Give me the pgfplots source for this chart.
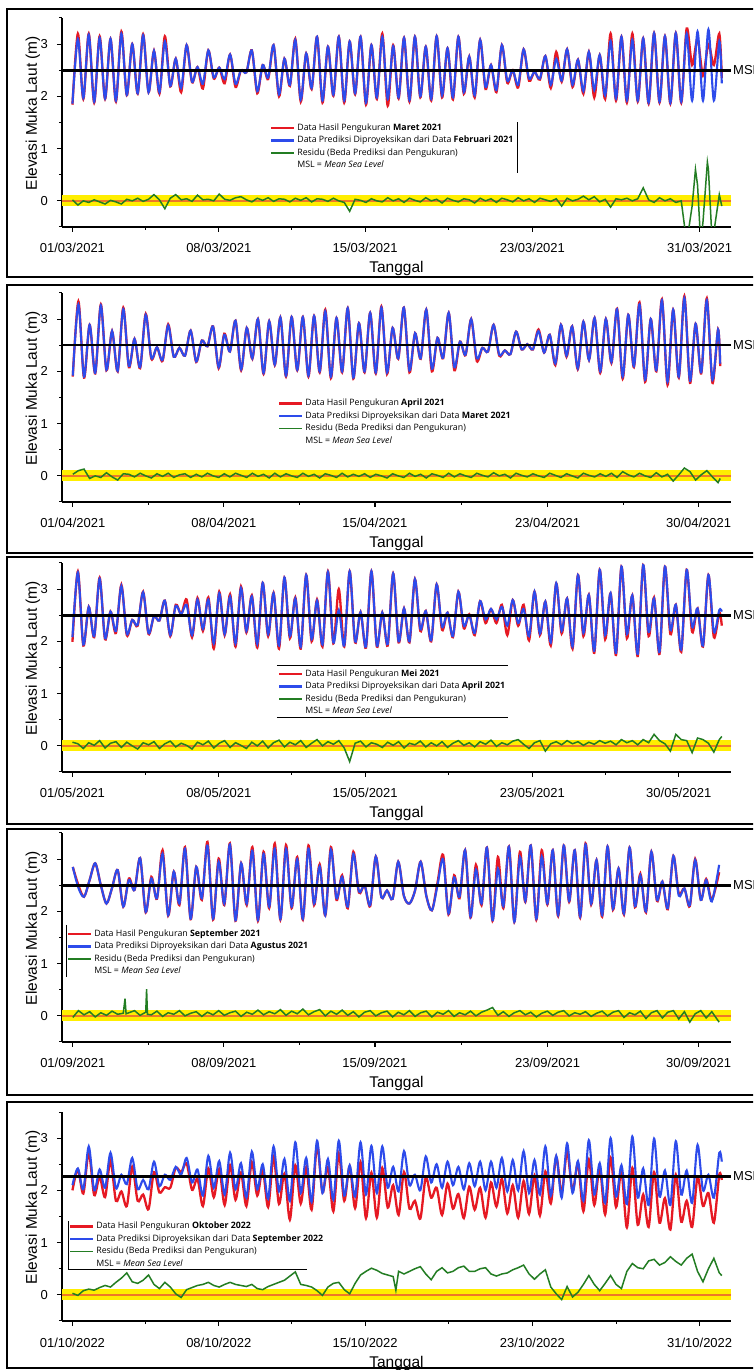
\documentclass[border=0pt]{standalone}
\usepackage{pgfplots}
\pgfplotsset{compat=1.18}
\usepackage{pgfplotstable}
\usepackage{fontspec}
\setmainfont{Liberation Sans}
\newfontfamily\legfont{Open Sans}
\definecolor{cred}{RGB}{230,25,35}
\definecolor{cblue}{RGB}{45,75,235}
\definecolor{cgreen}{RGB}{35,125,35}
\definecolor{cyel}{RGB}{255,238,0}
\definecolor{corg}{RGB}{238,120,40}

% Panel 1 : March 2021
\pgfplotstableread{
t p m r
0.00 1.86 1.84 0.02
0.26 3.10 3.20 -0.08
0.52 1.97 1.95 0.00
0.78 3.18 3.20 -0.03
1.04 1.90 1.88 0.02
1.30 3.12 3.15 -0.02
1.56 1.96 1.95 -0.06
1.82 3.10 3.10 0.01
2.08 1.92 1.90 -0.02
2.34 3.20 3.24 -0.06
2.60 2.03 2.02 0.03
2.86 3.00 3.00 0.00
3.12 2.06 2.05 0.05
3.38 3.17 3.19 -0.01
3.64 2.08 2.08 0.03
3.90 2.87 2.87 0.12
4.16 2.08 2.05 0.02
4.42 3.05 3.15 -0.15
4.68 2.20 2.19 0.05
4.94 2.72 2.72 0.12
5.20 2.16 2.08 0.02
5.46 2.98 2.98 0.04
5.72 2.28 2.27 -0.01
5.98 2.56 2.56 0.11
6.24 2.24 2.15 0.02
6.50 2.88 2.88 0.03
6.76 2.36 2.34 0.00
7.02 2.55 2.55 0.13
7.28 2.33 2.25 0.03
7.54 2.80 2.80 0.01
7.80 2.24 2.18 0.06
8.06 2.50 2.50 0.08
8.32 2.46 2.46 0.02
8.58 2.88 2.88 -0.02
8.84 2.10 2.06 0.05
9.10 2.60 2.60 0.01
9.36 2.36 2.33 0.06
9.62 2.98 2.98 -0.01
9.88 2.04 2.00 0.04
10.14 2.72 2.72 0.03
10.40 2.22 2.20 -0.02
10.66 3.08 3.10 0.05
10.92 1.94 1.90 0.01
11.18 2.82 2.82 0.06
11.44 2.16 2.14 -0.02
11.70 3.14 3.14 0.04
11.96 1.92 1.88 0.03
12.22 2.95 2.95 -0.01
12.48 2.03 2.01 0.05
12.74 3.14 3.14 0.00
13.00 1.92 1.88 -0.03
13.26 3.05 3.05 -0.20
13.52 2.06 2.04 0.03
13.78 3.14 3.14 0.01
14.04 1.88 1.84 -0.03
14.30 2.98 2.98 0.04
14.56 1.98 1.95 0.00
14.82 3.14 3.20 -0.02
15.08 1.95 1.82 0.06
15.34 2.96 2.98 0.00
15.60 1.98 1.96 0.04
15.86 3.12 3.12 -0.03
16.12 1.93 1.90 0.05
16.38 3.14 3.14 0.01
16.64 2.00 1.98 -0.02
16.90 2.95 2.95 0.06
17.16 1.95 1.92 0.00
17.42 3.15 3.15 0.03
17.68 2.02 1.98 -0.04
17.94 2.92 2.92 0.05
18.20 1.98 1.94 0.01
18.46 3.14 3.14 -0.02
18.72 2.08 2.05 0.04
18.98 2.76 2.76 0.02
19.24 2.02 1.98 -0.04
19.50 3.08 3.08 0.05
19.76 2.18 2.14 0.00
20.02 2.60 2.60 0.04
20.28 2.12 2.08 -0.03
20.54 2.98 2.98 0.05
20.80 2.30 2.26 0.02
21.06 2.50 2.50 -0.02
21.32 2.22 2.17 0.06
21.58 2.90 2.90 0.00
21.84 2.34 2.30 0.04
22.10 2.47 2.47 -0.03
22.36 2.34 2.32 0.05
22.62 2.77 2.77 0.02
22.88 2.22 2.16 -0.01
23.14 2.72 2.85 0.04
23.40 2.30 2.28 -0.10
23.66 2.90 2.90 0.05
23.92 2.22 2.18 0.00
24.18 2.70 2.70 0.03
24.44 2.10 2.05 0.09
24.70 2.85 2.85 0.02
24.96 2.12 1.98 0.08
25.22 2.79 2.79 -0.02
25.48 2.02 1.95 0.03
25.74 3.06 3.20 -0.12
26.00 1.96 1.92 0.04
26.26 3.14 3.14 0.02
26.52 1.92 1.88 0.05
26.78 3.08 3.20 0.00
27.04 1.92 1.90 0.04
27.30 3.11 3.11 0.25
27.56 1.88 1.86 0.02
27.82 3.21 3.21 -0.03
28.08 1.90 1.88 0.06
28.34 3.15 3.15 0.00
28.60 1.88 1.86 0.04
28.86 3.21 3.21 -0.03
29.12 1.90 1.88 0.00
29.38 3.20 3.30 -0.80
29.64 1.92 2.60 -0.10
29.80 nan nan 0.60
29.90 3.24 3.10 0.30
30.05 nan nan -0.80
30.16 1.92 2.40 -0.40
30.37 nan nan 0.74
30.42 3.28 3.00 0.60
30.60 nan nan -0.80
30.68 1.92 2.60 -0.60
30.94 3.05 3.20 0.12
31.06 2.25 2.35 -0.10
}\tA

% Panel 2 : April 2021
\pgfplotstableread{
t p m r
0.00 1.92 1.90 0.03
0.26 3.28 3.34 0.10
0.52 1.90 1.88 0.13
0.78 2.89 2.89 -0.05
1.04 1.97 1.96 0.00
1.30 3.26 3.28 -0.03
1.56 2.03 2.02 0.06
1.82 2.77 2.77 -0.02
2.08 2.01 2.00 -0.08
2.34 3.19 3.22 0.04
2.60 2.10 2.08 0.03
2.86 2.62 2.62 -0.02
3.12 2.08 2.06 0.05
3.38 3.08 3.10 0.00
3.64 2.26 2.24 -0.04
3.90 2.46 2.46 0.04
4.16 2.22 2.20 -0.01
4.42 2.88 2.90 0.05
4.68 2.28 2.28 -0.03
4.94 2.45 2.45 0.02
5.20 2.30 2.30 0.04
5.46 2.78 2.78 -0.03
5.72 2.19 2.18 0.03
5.98 2.59 2.59 -0.02
6.24 2.48 2.48 0.05
6.50 2.86 2.86 0.00
6.76 2.08 2.06 -0.03
7.02 2.70 2.72 0.04
7.28 2.38 2.38 -0.02
7.54 2.97 2.97 0.05
7.80 2.04 2.02 0.01
8.06 2.83 2.83 -0.03
8.32 2.25 2.24 0.05
8.58 3.00 3.00 -0.01
8.84 1.97 1.95 0.03
9.10 2.96 2.96 -0.04
9.36 2.13 2.12 0.05
9.62 3.03 3.03 -0.02
9.88 1.92 1.90 0.04
10.14 3.04 3.04 0.00
10.40 2.03 2.02 -0.03
10.66 3.04 3.04 0.05
10.92 1.92 1.90 -0.01
11.18 3.06 3.06 0.03
11.44 2.00 1.98 -0.04
11.70 3.15 3.18 0.04
11.96 1.90 1.87 0.01
12.22 3.02 3.02 -0.03
12.48 2.00 1.98 0.05
12.74 3.21 3.21 -0.02
13.00 1.88 1.86 0.03
13.26 2.92 2.92 -0.01
13.52 2.00 1.98 0.04
13.78 3.12 3.12 -0.03
14.04 1.98 1.96 0.03
14.30 3.22 3.24 0.00
14.56 1.98 1.95 -0.04
14.82 2.83 2.83 0.04
15.08 2.25 2.24 0.00
15.34 3.22 3.22 -0.03
15.60 2.02 1.98 0.05
15.86 2.73 2.73 -0.01
16.12 2.25 2.24 0.03
16.38 3.18 3.18 -0.04
16.64 2.05 2.00 0.04
16.90 2.64 2.64 0.01
17.16 2.26 2.25 -0.03
17.42 3.12 3.12 0.05
17.68 2.08 2.02 -0.02
17.94 2.57 2.57 0.04
18.20 2.32 2.31 0.00
18.46 3.00 3.00 -0.03
18.72 2.25 2.20 0.05
18.98 2.45 2.45 0.01
19.24 2.38 2.38 -0.02
19.50 2.89 2.89 0.06
19.76 2.32 2.30 0.00
20.02 2.40 2.40 0.03
20.28 2.33 2.33 -0.04
20.54 2.76 2.76 0.05
20.80 2.42 2.42 0.01
21.06 2.52 2.52 -0.02
21.32 2.42 2.42 0.04
21.58 2.77 2.80 0.00
21.84 2.36 2.36 -0.03
22.10 2.70 2.70 0.05
22.36 2.15 2.12 0.01
22.62 2.89 2.89 -0.03
22.88 2.30 2.28 0.04
23.14 2.86 2.86 0.00
23.40 2.06 2.04 -0.04
23.66 2.95 2.95 0.05
23.92 2.22 2.22 0.01
24.18 3.02 3.02 -0.02
24.44 2.00 1.97 0.04
24.70 3.00 3.00 -0.01
24.96 2.18 2.16 0.05
25.22 3.19 3.20 -0.03
25.48 1.90 1.86 0.08
25.74 3.08 3.08 0.02
26.00 2.10 2.08 -0.02
26.26 3.28 3.32 0.05
26.52 1.84 1.80 0.00
26.78 3.00 3.00 -0.03
27.04 2.02 2.00 0.06
27.30 3.36 3.38 -0.02
27.56 1.80 1.74 0.03
27.82 3.18 3.18 -0.10
28.08 1.90 1.88 0.02
28.34 3.40 3.44 0.15
28.60 1.82 1.78 0.08
28.86 2.91 2.91 -0.08
29.12 1.98 1.96 0.02
29.38 3.36 3.40 0.10
29.64 1.84 1.78 -0.02
29.90 2.80 2.80 -0.13
30.00 2.15 2.10 -0.05
}\tB

% Panel 3 : May 2021
\pgfplotstableread{
t p m r
0.00 2.08 1.99 0.07
0.26 3.32 3.34 0.04
0.52 1.94 1.92 -0.05
0.78 2.66 2.66 0.06
1.04 2.10 2.08 0.01
1.30 3.20 3.22 0.10
1.56 2.06 2.04 -0.04
1.82 2.57 2.57 0.05
2.08 2.20 2.16 0.08
2.34 3.06 3.08 -0.03
2.60 2.15 2.12 0.07
2.86 2.41 2.41 0.00
3.12 2.32 2.30 -0.06
3.38 2.94 2.95 0.06
3.64 2.16 2.14 0.02
3.90 2.48 2.48 0.08
4.16 2.40 2.40 -0.05
4.42 2.78 2.78 0.04
4.68 2.12 2.10 0.09
4.94 2.68 2.70 -0.02
5.20 2.52 2.52 0.05
5.46 2.70 2.80 0.01
5.72 2.12 2.08 -0.06
5.98 2.80 2.83 0.07
6.24 2.24 2.20 0.02
6.50 2.80 2.84 0.09
6.76 1.96 1.86 -0.04
7.02 2.92 2.95 0.05
7.28 2.14 2.12 0.10
7.54 2.86 2.90 -0.03
7.80 1.96 1.90 0.06
8.06 3.02 3.05 0.01
8.32 2.20 2.17 -0.05
8.58 2.86 2.88 0.07
8.84 1.95 1.88 0.00
9.10 3.12 3.12 0.09
9.36 2.14 2.10 -0.04
9.62 2.92 2.93 0.06
9.88 1.92 1.86 0.11
10.14 3.22 3.22 -0.02
10.40 2.10 2.06 0.07
10.66 2.82 2.84 0.02
10.92 1.90 1.86 0.10
11.18 3.27 3.27 -0.03
11.44 2.04 2.00 0.05
11.70 2.78 2.80 0.12
11.96 1.94 1.90 0.00
12.22 3.33 3.34 0.08
12.48 1.98 1.96 0.03
12.74 2.60 3.00 0.10
13.00 1.92 1.90 -0.04
13.26 3.34 3.34 -0.30
13.52 2.00 1.98 0.05
13.78 2.56 2.56 0.09
14.04 1.90 1.88 -0.02
14.30 3.34 3.34 0.06
14.56 1.92 1.90 0.03
14.82 2.55 2.55 -0.03
15.08 1.95 1.92 0.07
15.34 3.30 3.30 0.01
15.60 2.00 1.98 0.08
15.86 2.63 2.63 -0.04
16.12 2.00 1.98 0.05
16.38 3.19 3.19 0.02
16.64 2.24 2.20 0.09
16.90 2.58 2.58 -0.02
17.16 2.02 2.00 0.06
17.42 3.09 3.09 0.00
17.68 2.28 2.22 0.08
17.94 2.55 2.55 -0.03
18.20 2.10 2.08 0.05
18.46 2.95 2.95 0.10
18.72 2.30 2.25 0.01
18.98 2.50 2.52 0.06
19.24 2.16 2.12 -0.02
19.50 2.77 2.77 0.08
19.76 2.42 2.35 0.03
20.02 2.62 2.62 0.11
20.28 2.42 2.35 -0.01
20.54 2.66 2.70 0.06
20.80 2.30 2.12 0.02
21.06 2.79 2.79 0.09
21.32 2.35 2.30 0.12
21.58 2.62 2.70 0.03
21.84 2.10 2.02 -0.05
22.10 2.95 2.95 0.06
22.36 2.15 2.12 0.10
22.62 2.76 2.76 -0.10
22.88 1.98 1.92 0.04
23.14 3.11 3.11 0.08
23.40 2.20 2.15 0.02
23.66 2.82 2.82 0.10
23.92 1.90 1.86 0.04
24.18 3.27 3.27 0.08
24.44 2.16 2.10 0.01
24.70 2.89 2.89 0.07
24.96 1.82 1.78 0.03
25.22 3.37 3.37 0.10
25.48 2.12 2.04 0.05
25.74 2.92 2.92 0.09
26.00 1.78 1.74 0.02
26.26 3.43 3.43 0.12
26.52 2.14 2.06 0.06
26.78 2.88 2.88 0.10
27.04 1.76 1.72 0.02
27.30 3.46 3.46 0.12
27.56 2.18 2.10 0.06
27.82 2.82 2.84 0.22
28.08 1.80 1.76 0.10
28.34 3.43 3.43 0.04
28.60 2.22 2.14 -0.10
28.86 2.70 2.70 0.22
29.12 1.84 1.80 0.12
29.38 3.37 3.37 0.10
29.64 2.28 2.18 -0.13
29.90 2.63 2.63 0.15
30.16 1.92 1.90 0.12
30.42 3.27 3.27 0.05
30.68 2.18 2.08 -0.12
30.94 2.60 2.55 0.12
31.06 2.57 2.30 0.18
}\tC

% Panel 4 : September 2021
\pgfplotstableread{
t p m r
0.00 2.85 2.85 -0.03
0.26 2.45 2.50 0.10
0.52 2.28 2.28 0.02
0.78 2.60 2.60 0.08
1.04 2.92 2.92 -0.02
1.30 2.50 2.50 0.06
1.56 2.15 2.15 0.01
1.82 2.45 2.45 0.09
2.08 2.79 2.79 0.03
2.34 2.09 2.09 0.05
2.42 nan nan 0.33
2.47 nan nan 0.04
2.60 2.60 2.63 0.06
2.86 2.41 2.41 0.10
3.12 3.02 3.02 0.01
3.38 1.99 1.98 0.07
3.42 nan nan 0.51
3.46 nan nan 0.03
3.64 2.63 2.66 0.02
3.90 2.25 2.24 0.09
4.16 3.10 3.17 -0.01
4.42 1.93 1.92 0.06
4.68 2.76 2.76 0.03
4.94 2.15 2.12 0.10
5.20 3.20 3.23 0.00
5.46 1.86 1.85 0.05
5.72 2.85 2.85 0.08
5.98 2.25 2.22 -0.01
6.24 3.26 3.33 0.07
6.50 1.86 1.84 0.02
6.76 2.95 3.01 0.10
7.02 2.15 2.12 0.01
7.28 3.28 3.30 0.06
7.54 1.83 1.82 0.09
7.80 2.92 2.92 -0.01
8.06 2.15 2.12 0.07
8.32 3.16 3.23 0.03
8.58 1.84 1.82 0.11
8.84 3.10 3.14 0.02
9.10 2.09 2.06 0.08
9.36 3.20 3.30 0.04
9.62 1.86 1.84 0.12
9.88 3.20 3.27 0.01
10.14 2.09 2.06 0.09
10.40 3.00 3.04 0.04
10.66 1.86 1.84 0.13
10.92 3.20 3.26 0.02
11.18 2.15 2.12 0.08
11.44 2.86 2.90 0.12
11.70 1.93 1.92 0.00
11.96 3.18 3.23 0.09
12.22 2.25 2.22 0.03
12.48 2.66 2.69 0.11
12.74 2.09 2.06 0.01
13.00 3.10 3.14 0.08
13.26 2.38 2.36 -0.02
13.52 2.50 2.50 0.07
13.78 2.12 2.10 0.10
14.04 3.05 3.05 0.00
14.30 2.27 2.27 0.06
14.56 2.40 2.40 0.09
14.82 2.24 2.24 -0.02
15.08 2.95 2.95 0.07
15.34 2.30 2.30 0.02
15.60 2.15 2.15 0.10
15.86 2.40 2.40 -0.01
16.12 2.95 2.95 0.06
16.38 2.30 2.30 0.09
16.64 2.02 2.02 -0.02
16.90 2.50 2.55 0.07
17.16 3.00 3.08 0.03
17.41 1.96 1.94 0.10
17.67 2.65 2.69 -0.01
17.92 2.28 2.25 0.06
18.18 3.17 3.17 0.02
18.43 1.90 1.88 0.09
18.68 2.80 2.89 0.00
18.94 2.15 2.12 0.07
19.19 3.22 3.22 0.11
19.45 1.83 1.82 0.16
19.70 2.82 3.04 0.01
19.95 2.10 2.06 0.08
20.21 3.24 3.24 -0.01
20.46 1.80 1.80 0.06
20.72 3.04 3.14 0.10
20.97 2.20 2.18 0.02
21.22 3.26 3.26 0.07
21.48 1.86 1.84 -0.02
21.73 3.05 3.17 0.05
21.99 2.15 2.13 0.09
22.24 3.17 3.17 0.01
22.49 1.93 1.91 0.07
22.75 3.26 3.26 0.10
23.00 2.20 2.18 0.00
23.26 3.17 3.17 0.06
23.51 1.90 1.88 0.03
23.76 3.28 3.30 0.08
24.02 2.15 2.13 -0.01
24.27 2.98 2.98 0.05
24.53 1.93 1.90 0.09
24.78 3.24 3.24 0.00
25.03 2.05 2.03 0.07
25.29 2.82 2.82 0.10
25.54 1.96 1.94 -0.03
25.80 3.22 3.22 0.06
26.05 2.10 2.08 0.02
26.30 2.69 2.72 0.09
26.56 2.00 1.98 -0.05
26.81 3.14 3.14 0.06
27.07 2.22 2.20 0.10
27.32 2.57 2.57 -0.04
27.57 2.06 2.04 0.07
27.83 3.06 3.06 0.10
28.08 2.30 2.34 -0.06
28.34 2.44 2.44 0.08
28.59 2.12 2.10 -0.12
28.84 2.98 3.00 0.04
29.10 2.22 2.22 0.10
29.35 2.60 2.62 -0.04
29.61 2.19 2.22 0.08
29.95 2.89 2.75 -0.12
}\tD

% Panel 5 : October 2022
\pgfplotstableread{
t p m r
0.00 2.10 2.00 0.03
0.26 2.42 2.40 -0.01
0.52 2.02 1.94 0.08
0.78 2.84 2.73 0.11
1.04 2.00 1.91 0.09
1.30 2.40 2.26 0.14
1.56 2.05 1.87 0.18
1.82 2.72 2.57 0.15
2.08 2.04 1.80 0.24
2.34 2.30 1.98 0.32
2.60 2.12 1.70 0.42
2.86 2.62 2.45 0.25
3.12 2.02 1.80 0.22
3.38 2.20 1.92 0.28
3.64 2.02 1.64 0.38
3.90 2.55 2.35 0.20
4.16 2.08 1.96 0.12
4.42 2.30 2.06 0.24
4.68 2.20 2.05 0.15
4.94 2.45 2.43 0.02
5.20 2.30 2.35 -0.05
5.46 2.62 2.52 0.10
5.72 2.15 2.01 0.14
5.98 2.40 2.22 0.18
6.24 1.90 1.70 0.20
6.50 2.66 2.42 0.24
6.76 2.05 1.87 0.18
7.02 2.56 2.41 0.15
7.28 1.92 1.72 0.20
7.54 2.72 2.48 0.24
7.80 2.02 1.82 0.20
8.06 2.52 2.34 0.18
8.32 1.86 1.70 0.16
8.58 2.74 2.54 0.20
8.84 2.02 1.90 0.12
9.10 2.50 2.40 0.10
9.36 1.84 1.68 0.16
9.62 2.84 2.64 0.20
9.88 1.98 1.74 0.24
10.14 2.60 2.32 0.28
10.40 1.80 1.44 0.36
10.66 2.92 2.48 0.44
10.92 1.95 1.75 0.20
11.18 2.62 2.44 0.18
11.44 1.78 1.63 0.15
11.70 2.95 2.87 0.08
11.96 1.95 1.96 -0.01
12.22 2.60 2.45 0.15
12.48 1.82 1.60 0.22
12.74 2.95 2.71 0.24
13.00 1.90 1.80 0.10
13.26 2.48 2.46 0.02
13.52 1.88 1.66 0.22
13.78 2.92 2.54 0.38
14.04 1.92 1.47 0.45
14.30 2.85 2.34 0.51
14.56 1.95 1.48 0.47
14.82 2.84 2.43 0.41
15.08 2.05 1.67 0.38
15.34 2.45 2.10 0.35
15.47 nan nan 0.09
15.60 1.98 1.53 0.45
15.86 2.75 2.35 0.40
16.12 2.10 1.65 0.45
16.38 2.30 1.80 0.50
16.64 2.00 1.46 0.54
16.90 2.65 2.25 0.40
17.16 2.15 1.86 0.29
17.42 2.50 2.05 0.45
17.68 2.05 1.53 0.52
17.94 2.55 2.13 0.42
18.20 2.10 1.65 0.45
18.46 2.45 1.93 0.52
18.72 2.02 1.47 0.55
18.98 2.52 2.07 0.45
19.24 2.08 1.63 0.45
19.50 2.55 2.05 0.50
19.76 2.00 1.48 0.52
20.02 2.55 2.15 0.40
20.28 2.05 1.69 0.36
20.54 2.62 2.22 0.40
20.80 1.98 1.56 0.42
21.06 2.58 2.10 0.48
21.32 2.00 1.48 0.52
21.58 2.75 2.18 0.57
21.84 1.95 1.55 0.40
22.10 2.58 2.28 0.30
22.36 1.92 1.52 0.40
22.62 2.84 2.36 0.48
22.88 1.90 1.75 0.15
23.14 2.66 2.64 0.02
23.40 1.86 1.95 -0.09
23.66 2.90 2.74 0.16
23.92 1.95 1.99 -0.04
24.18 2.56 2.51 0.05
24.44 1.80 1.60 0.20
24.70 2.96 2.59 0.37
24.96 1.92 1.72 0.20
25.22 2.52 2.44 0.08
25.48 1.76 1.54 0.22
25.74 3.00 2.63 0.37
26.00 1.88 1.68 0.20
26.26 2.48 2.36 0.12
26.52 1.74 1.29 0.45
26.78 3.03 2.43 0.60
27.04 1.86 1.34 0.52
27.30 2.42 1.92 0.50
27.56 1.72 1.30 0.65
27.82 2.99 2.35 0.68
28.08 1.88 1.38 0.57
28.34 2.38 1.85 0.62
28.60 1.72 1.25 0.73
28.86 2.94 2.30 0.64
29.12 1.92 1.40 0.57
29.38 2.38 1.80 0.70
29.64 1.76 1.30 0.78
29.90 2.87 2.25 0.45
30.16 2.00 1.70 0.25
30.42 2.30 1.95 0.50
30.68 1.86 1.38 0.70
30.94 2.72 2.30 0.42
31.06 2.55 2.20 0.37
}\tE

\pgfplotsset{
  legend image code/.code={\draw[#1] (0pt,0pt) -- (23pt,0pt);},
  panel/.style={
    scale only axis, width=669pt, height=209pt,
    ymin=-0.5, ymax=3.5,
    ytick={0,1,2,3}, minor ytick={-0.5,0.5,1.5,2.5,3.5},
    axis lines*=left,
    axis line style={line width=1.5pt, black},
    major tick style={black, line width=1.2pt},
    minor tick style={black, line width=1.0pt},
    major tick length=5pt, minor tick length=3pt,
    tick align=outside,
    clip mode=individual,
    /pgf/number format/assume math mode=true,
    tick label style={font=\fontsize{13}{15}\selectfont},
    xticklabel style={anchor=base, yshift=-21pt, inner sep=0pt},
    yticklabel style={anchor=east, inner sep=0pt, xshift=-9pt},
    xlabel={Tanggal}, ylabel={Elevasi Muka Laut (m)},
    every axis label/.append style={font=\fontsize{15.5}{18}\selectfont},
    every axis x label/.style={at={(axis description cs:0.5,0)}, anchor=base, yshift=-46pt},
    every axis y label/.style={at={(axis description cs:-0.0434,0.545)}, anchor=center, rotate=90},
    legend cell align=left,
    legend style={draw=none, fill=none, inner sep=0pt, outer sep=0pt, anchor=north west,
      font=\legfont\fontsize{8.8}{10}\selectfont, row sep=4pt, column sep=2pt,
      nodes={inner sep=0pt, text height=6.5pt, text depth=2pt}},
  },
}

\newcommand{\bandandzero}[1]{%
  \addplot[draw=none, fill=cyel, forget plot] coordinates {(-0.5,-0.105) (#1,-0.105) (#1,0.105) (-0.5,0.105)};
  \addplot[corg, line width=2.5pt, forget plot] coordinates {(-0.5,0) (#1,0)};
}

\begin{document}
\begin{tikzpicture}
\useasboundingbox (0,0) rectangle (753pt,1370pt);
\clip (0,0) rectangle (753pt,1370pt);
\fill[white] (0,0) rectangle (753pt,1370pt);
% panel frames
\draw[line width=2.6pt] (7pt,1093pt) rectangle (780pt,1361pt);
\draw[line width=2.6pt] (7pt,817pt) rectangle (780pt,1085pt);
\draw[line width=2.6pt] (7pt,546pt) rectangle (780pt,813pt);
\draw[line width=2.6pt] (7pt,275pt) rectangle (780pt,541pt);
\draw[line width=2.6pt] (7pt,2pt) rectangle (780pt,268pt);

% ---------- Panel 1 ----------
\begin{axis}[panel, at={(62pt,1143pt)}, anchor=south west,
  xmin=-0.5, xmax=31.5, xtick={0,7,14,22,30},
  xticklabels={01/03/2021,08/03/2021,15/03/2021,23/03/2021,31/03/2021},
  minor xtick={3.5,10.5,18,26},
  legend style={at={(0.311,0.494)}}]
\bandandzero{31.5}
\addplot[cred, line width=2.3pt, smooth] table[x=t,y=m] {\tA};
\addlegendentry{Data Hasil Pengukuran \textbf{Maret 2021}}
\addplot[cblue, line width=2.1pt, smooth] table[x=t,y=p] {\tA};
\addlegendentry{Data Prediksi Diproyeksikan dari Data \textbf{Februari 2021}}
\addplot[cgreen, line width=1.5pt] table[x=t,y=r] {\tA};
\addlegendentry{Residu (Beda Prediksi dan Pengukuran)}
\addlegendimage{empty legend}
\addlegendentry{MSL = \textit{Mean Sea Level}}
\addplot[black, line width=2.6pt, forget plot] coordinates {(-0.5,2.5) (31.5,2.5)};
\draw[black, line width=0.8pt] (axis description cs:0.680,0.502) -- (axis description cs:0.680,0.258);
\node[anchor=west, inner sep=0pt, font=\fontsize{13}{15}\selectfont] at (axis cs:31.5,2.5) {\hspace{2pt}MSL};
\end{axis}

% ---------- Panel 2 ----------
\begin{axis}[panel, at={(62pt,868pt)}, anchor=south west,
  xmin=-0.5, xmax=30.5, xtick={0,7,14,22,29},
  xticklabels={01/04/2021,08/04/2021,15/04/2021,23/04/2021,30/04/2021},
  minor xtick={3.5,10.5,18,25.5},
  legend style={at={(0.323,0.491)}}]
\bandandzero{30.5}
\addplot[cred, line width=2.3pt, smooth] table[x=t,y=m] {\tB};
\addlegendentry{Data Hasil Pengukuran \textbf{April 2021}}
\addplot[cblue, line width=2.1pt, smooth] table[x=t,y=p] {\tB};
\addlegendentry{Data Prediksi Diproyeksikan dari Data \textbf{Maret 2021}}
\addplot[cgreen, line width=1.5pt] table[x=t,y=r] {\tB};
\addlegendentry{Residu (Beda Prediksi dan Pengukuran)}
\addlegendimage{empty legend}
\addlegendentry{MSL = \textit{Mean Sea Level}}
\addplot[black, line width=2.0pt, forget plot] coordinates {(-0.5,2.5) (30.5,2.5)};
\node[anchor=west, inner sep=0pt, font=\fontsize{13}{15}\selectfont] at (axis cs:30.5,2.5) {\hspace{2pt}MSL};
\end{axis}

% ---------- Panel 3 ----------
\begin{axis}[panel, at={(62pt,598pt)}, anchor=south west,
  xmin=-0.5, xmax=31.5, xtick={0,7,14,22,29},
  xticklabels={01/05/2021,08/05/2021,15/05/2021,23/05/2021,30/05/2021},
  minor xtick={3.5,10.5,18,25.5},
  legend style={at={(0.323,0.489)}}]
\bandandzero{31.5}
\addplot[cred, line width=2.3pt, smooth] table[x=t,y=m] {\tC};
\addlegendentry{Data Hasil Pengukuran \textbf{Mei 2021}}
\addplot[cblue, line width=2.1pt, smooth] table[x=t,y=p] {\tC};
\addlegendentry{Data Prediksi Diproyeksikan dari Data \textbf{April 2021}}
\addplot[cgreen, line width=1.5pt] table[x=t,y=r] {\tC};
\addlegendentry{Residu (Beda Prediksi dan Pengukuran)}
\addlegendimage{empty legend}
\addlegendentry{MSL = \textit{Mean Sea Level}}
\addplot[black, line width=2.6pt, forget plot] coordinates {(-0.5,2.5) (31.5,2.5)};
\draw[black, line width=0.8pt] (axis description cs:0.321,0.512) -- (axis description cs:0.667,0.512);
\draw[black, line width=0.8pt] (axis description cs:0.321,0.263) -- (axis description cs:0.667,0.263);
\node[anchor=west, inner sep=0pt, font=\fontsize{13}{15}\selectfont] at (axis cs:31.5,2.5) {\hspace{2pt}MSL};
\end{axis}

% ---------- Panel 4 ----------
\begin{axis}[panel, at={(62pt,328pt)}, anchor=south west,
  xmin=-0.5, xmax=30.5, xtick={0,7,14,22,29},
  xticklabels={01/09/2021,08/09/2021,15/09/2021,23/09/2021,30/09/2021},
  minor xtick={3.5,10.5,18,25.5},
  legend style={at={(0.0075,0.537)}}]
\bandandzero{30.5}
\addplot[cred, line width=2.3pt, smooth] table[x=t,y=m] {\tD};
\addlegendentry{Data Hasil Pengukuran \textbf{September 2021}}
\addplot[cblue, line width=2.1pt, smooth] table[x=t,y=p] {\tD};
\addlegendentry{Data Prediksi Diproyeksikan dari Data \textbf{Agustus 2021}}
\addplot[cgreen, line width=1.5pt] table[x=t,y=r] {\tD};
\addlegendentry{Residu (Beda Prediksi dan Pengukuran)}
\addlegendimage{empty legend}
\addlegendentry{MSL = \textit{Mean Sea Level}}
\addplot[black, line width=2.6pt, forget plot] coordinates {(-0.5,2.5) (30.5,2.5)};
\draw[black, line width=0.8pt] (axis description cs:0.006,0.56) -- (axis description cs:0.006,0.311);
\node[anchor=west, inner sep=0pt, font=\fontsize{13}{15}\selectfont] at (axis cs:30.5,2.5) {\hspace{2pt}MSL};
\end{axis}

% ---------- Panel 5 ----------
\begin{axis}[panel, at={(62pt,49pt)}, anchor=south west,
  xmin=-0.5, xmax=31.5, xtick={0,7,14,22,30},
  xticklabels={01/10/2022,08/10/2022,15/10/2022,23/10/2022,31/10/2022},
  minor xtick={3.5,10.5,18,26},
  legend style={at={(0.0105,0.473)}}]
\bandandzero{31.5}
\addplot[cred, line width=2.3pt, smooth] table[x=t,y=m] {\tE};
\addlegendentry{Data Hasil Pengukuran \textbf{Oktober 2022}}
\addplot[cblue, line width=2.1pt, smooth] table[x=t,y=p] {\tE};
\addlegendentry{Data Prediksi Diproyeksikan dari Data \textbf{September 2022}}
\addplot[cgreen, line width=1.5pt] table[x=t,y=r] {\tE};
\addlegendentry{Residu (Beda Prediksi dan Pengukuran)}
\addlegendimage{empty legend}
\addlegendentry{MSL = \textit{Mean Sea Level}}
\addplot[black, line width=2.6pt, forget plot] coordinates {(-0.5,2.27) (31.5,2.27)};
\draw[black, line width=0.8pt] (axis description cs:0.009,0.477) -- (axis description cs:0.009,0.247) -- (axis description cs:0.366,0.247);
\node[anchor=west, inner sep=0pt, font=\fontsize{13}{15}\selectfont] at (axis cs:31.5,2.27) {\hspace{2pt}MSL};
\end{axis}
\end{tikzpicture}
\end{document}
